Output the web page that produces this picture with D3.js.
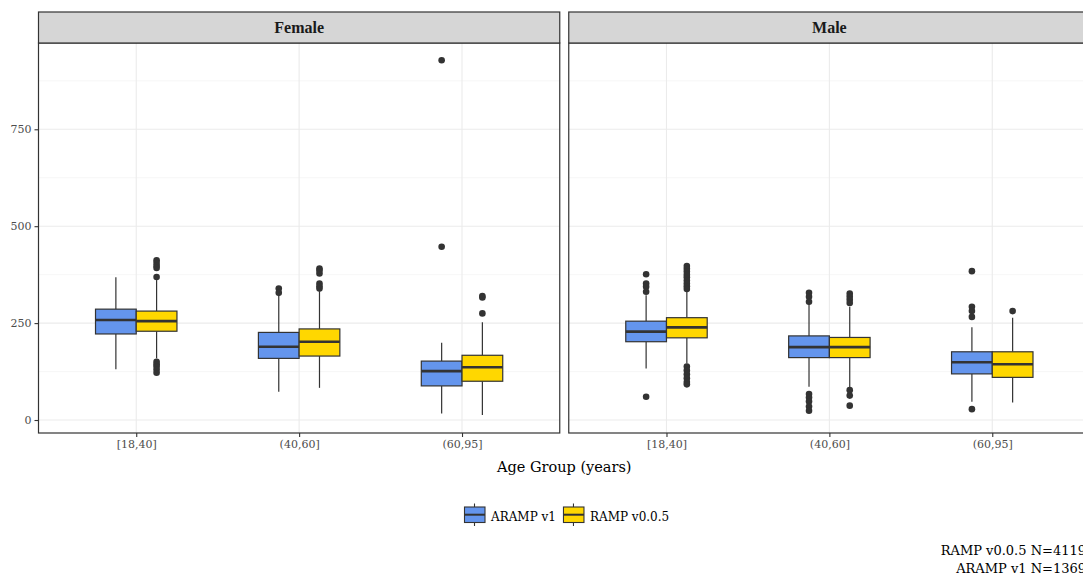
<!DOCTYPE html>
<html>
<head>
<meta charset="utf-8">
<script src="https://cdn.jsdelivr.net/npm/d3@7"></script>
<style>
  body { margin: 0; background: #fff; }
  svg { display: block; }
</style>
</head>
<body>
<svg id="chart" width="1083" height="576"></svg>
<script>
const sexes = ["Female", "Male"];
const ageGroups = ["[18,40]", "(40,60]", "(60,95]"];
const versions = ["ARAMP v1", "RAMP v0.0.5"];
const versionColors = ["#6495ED", "#FFD700"];
const yTicks = [0, 250, 500, 750];
const yMinorTicks = [125, 375, 625, 875];
const captionLines = ["RAMP v0.0.5 N=4119", "ARAMP v1 N=1369"];

// one entry per sex x age group x version (Female first, ARAMP v1 before RAMP v0.0.5)
const whiskerLow  = [131, 159,  73,  83,  17,  13,  133, 146,  86,  84,  47,  45];
const q1          = [222, 229, 159, 165,  88, 100,  202, 212, 161, 161, 119, 110];
const median      = [258, 255, 189, 202, 126, 136,  228, 239, 188, 188, 149, 144];
const q3          = [286, 281, 226, 235, 152, 167,  255, 264, 217, 213, 176, 176];
const whiskerHigh = [368, 361, 322, 331, 199, 252,  322, 331, 301, 292, 239, 264];
const outliers = [
  [],
  [412, 405, 398, 392, 369, 150, 144, 138, 130, 122],
  [339, 328],
  [391, 386, 378, 352, 345, 339],
  [928, 447],
  [320, 316, 275],
  [376, 352, 344, 331, 60],
  [397, 390, 383, 375, 368, 360, 352, 345, 338, 138, 128, 118, 108, 98, 92],
  [328, 318, 305, 67, 58, 48, 35, 24],
  [326, 318, 310, 302, 77, 63, 37],
  [384, 292, 281, 266, 28],
  [281]
];

const boxes = [];
let k = 0;
sexes.forEach(s => ageGroups.forEach(a => versions.forEach((v, vi) => {
  boxes.push({sex: s, age: a, version: v, vi: vi,
    lo: whiskerLow[k], q1: q1[k], med: median[k], q3: q3[k], hi: whiskerHigh[k], out: outliers[k]});
  k++;
})));

const svg = d3.select("#chart");
const serif = "'DejaVu Serif', serif";
const panelTop = 43, panelBottom = 433, stripTop = 12;

const facet = d3.scaleBand().domain(sexes).range([38.5, 1090]).paddingInner(9 / 530.25);
const pw = facet.bandwidth();

const x = d3.scalePoint().domain(ageGroups).range([0, pw]).padding(0.6);
const unit = x.step();
const dodge = d3.scaleBand().domain(versions).range([-0.25 * unit, 0.25 * unit]);
const y = d3.scaleLinear().domain([-33.5, 972.6]).range([panelBottom, panelTop]);

sexes.forEach(sex => {
  const g = svg.append("g").attr("transform", "translate(" + facet(sex) + ",0)");

  g.append("rect").attr("x", 0).attr("y", panelTop).attr("width", pw)
    .attr("height", panelBottom - panelTop).attr("fill", "#fff");

  g.selectAll(".minor").data(yMinorTicks).enter().append("line")
    .attr("x1", 0).attr("x2", pw)
    .attr("y1", d => y(d)).attr("y2", d => y(d))
    .attr("stroke", "#f2f2f2").attr("stroke-width", 0.7);
  g.selectAll(".major").data(yTicks).enter().append("line")
    .attr("x1", 0).attr("x2", pw)
    .attr("y1", d => y(d)).attr("y2", d => y(d))
    .attr("stroke", "#ebebeb").attr("stroke-width", 1.1);
  g.selectAll(".vgrid").data(ageGroups).enter().append("line")
    .attr("x1", d => x(d)).attr("x2", d => x(d))
    .attr("y1", panelTop).attr("y2", panelBottom)
    .attr("stroke", "#ebebeb").attr("stroke-width", 1.1);

  const bx = g.selectAll(".box").data(boxes.filter(b => b.sex === sex)).enter().append("g")
    .attr("transform", d => "translate(" + (x(d.age) + dodge(d.version)) + ",0)");
  const bw = dodge.bandwidth();

  bx.append("line").attr("x1", bw / 2).attr("x2", bw / 2)
    .attr("y1", d => y(d.hi)).attr("y2", d => y(d.q3))
    .attr("stroke", "#333").attr("stroke-width", 1.2);
  bx.append("line").attr("x1", bw / 2).attr("x2", bw / 2)
    .attr("y1", d => y(d.q1)).attr("y2", d => y(d.lo))
    .attr("stroke", "#333").attr("stroke-width", 1.2);
  bx.append("rect").attr("x", 0).attr("width", bw)
    .attr("y", d => y(d.q3)).attr("height", d => y(d.q1) - y(d.q3))
    .attr("fill", d => versionColors[d.vi]).attr("stroke", "#333").attr("stroke-width", 1.2);
  bx.append("line").attr("x1", 0).attr("x2", bw)
    .attr("y1", d => y(d.med)).attr("y2", d => y(d.med))
    .attr("stroke", "#333").attr("stroke-width", 2.6);
  bx.selectAll("circle").data(d => d.out).enter().append("circle")
    .attr("cx", bw / 2).attr("cy", d => y(d)).attr("r", 3.3)
    .attr("fill", "#333");

  g.append("rect").attr("x", 0).attr("y", panelTop).attr("width", pw)
    .attr("height", panelBottom - panelTop).attr("fill", "none")
    .attr("stroke", "#333").attr("stroke-width", 1.2);

  // strip
  g.append("rect").attr("x", 0).attr("y", stripTop).attr("width", pw)
    .attr("height", panelTop - stripTop).attr("fill", "#d6d6d6")
    .attr("stroke", "#333").attr("stroke-width", 1.2);
  g.append("text").attr("x", pw / 2).attr("y", (stripTop + panelTop) / 2 + 5)
    .attr("text-anchor", "middle").attr("font-family", "'Liberation Serif', serif")
    .attr("font-weight", "bold").attr("font-size", 16).attr("fill", "#1a1a1a").text(sex);

  // x axis
  const xa = g.append("g").attr("transform", "translate(0," + panelBottom + ")")
    .call(d3.axisBottom(x).tickSize(4).tickPadding(3));
  xa.select(".domain").remove();
  xa.selectAll("line").attr("stroke", "#333").attr("stroke-width", 1.1);
  xa.selectAll("text").attr("font-family", serif).attr("font-size", 11).attr("fill", "#4d4d4d");

  if (sex === sexes[0]) {
    const ya = g.append("g").call(d3.axisLeft(y).tickValues(yTicks).tickSize(4).tickPadding(3));
    ya.select(".domain").remove();
    ya.selectAll("line").attr("stroke", "#333").attr("stroke-width", 1.1);
    ya.selectAll("text").attr("font-family", serif).attr("font-size", 11).attr("fill", "#4d4d4d");
  }
});

// axis title
svg.append("text").attr("x", (facet.range()[0] + facet.range()[1]) / 2).attr("y", 472)
  .attr("text-anchor", "middle").attr("font-family", serif).attr("font-size", 14.5)
  .attr("fill", "#000").text("Age Group (years)");

// legend
const legend = svg.append("g").attr("transform", "translate(464,0)");
let lx = 0;
versions.forEach((v, i) => {
  const kg = legend.append("g").attr("transform", "translate(" + lx + ",0)");
  kg.append("line").attr("x1", 10.5).attr("x2", 10.5).attr("y1", 503.5).attr("y2", 526)
    .attr("stroke", "#333").attr("stroke-width", 1.1);
  kg.append("rect").attr("x", 0.5).attr("y", 507).attr("width", 20.5).attr("height", 15.5)
    .attr("fill", versionColors[i]).attr("stroke", "#333").attr("stroke-width", 1.1);
  kg.append("line").attr("x1", 0.5).attr("x2", 21).attr("y1", 514.7).attr("y2", 514.7)
    .attr("stroke", "#333").attr("stroke-width", 2);
  const t = kg.append("text").attr("x", 27).attr("y", 520.5)
    .attr("font-family", serif).attr("font-size", 12).attr("fill", "#000").text(v);
  lx += 27 + t.node().getComputedTextLength() + 7;
});

// caption, right-aligned at the plot edge (cut by the frame as in the reference)
svg.selectAll(".caption").data(captionLines).enter().append("text")
  .attr("x", 1086).attr("y", (d, i) => 555 + i * 17.5)
  .attr("text-anchor", "end").attr("font-family", serif).attr("font-size", 13)
  .attr("fill", "#000").text(d => d);
</script>
</body>
</html>
